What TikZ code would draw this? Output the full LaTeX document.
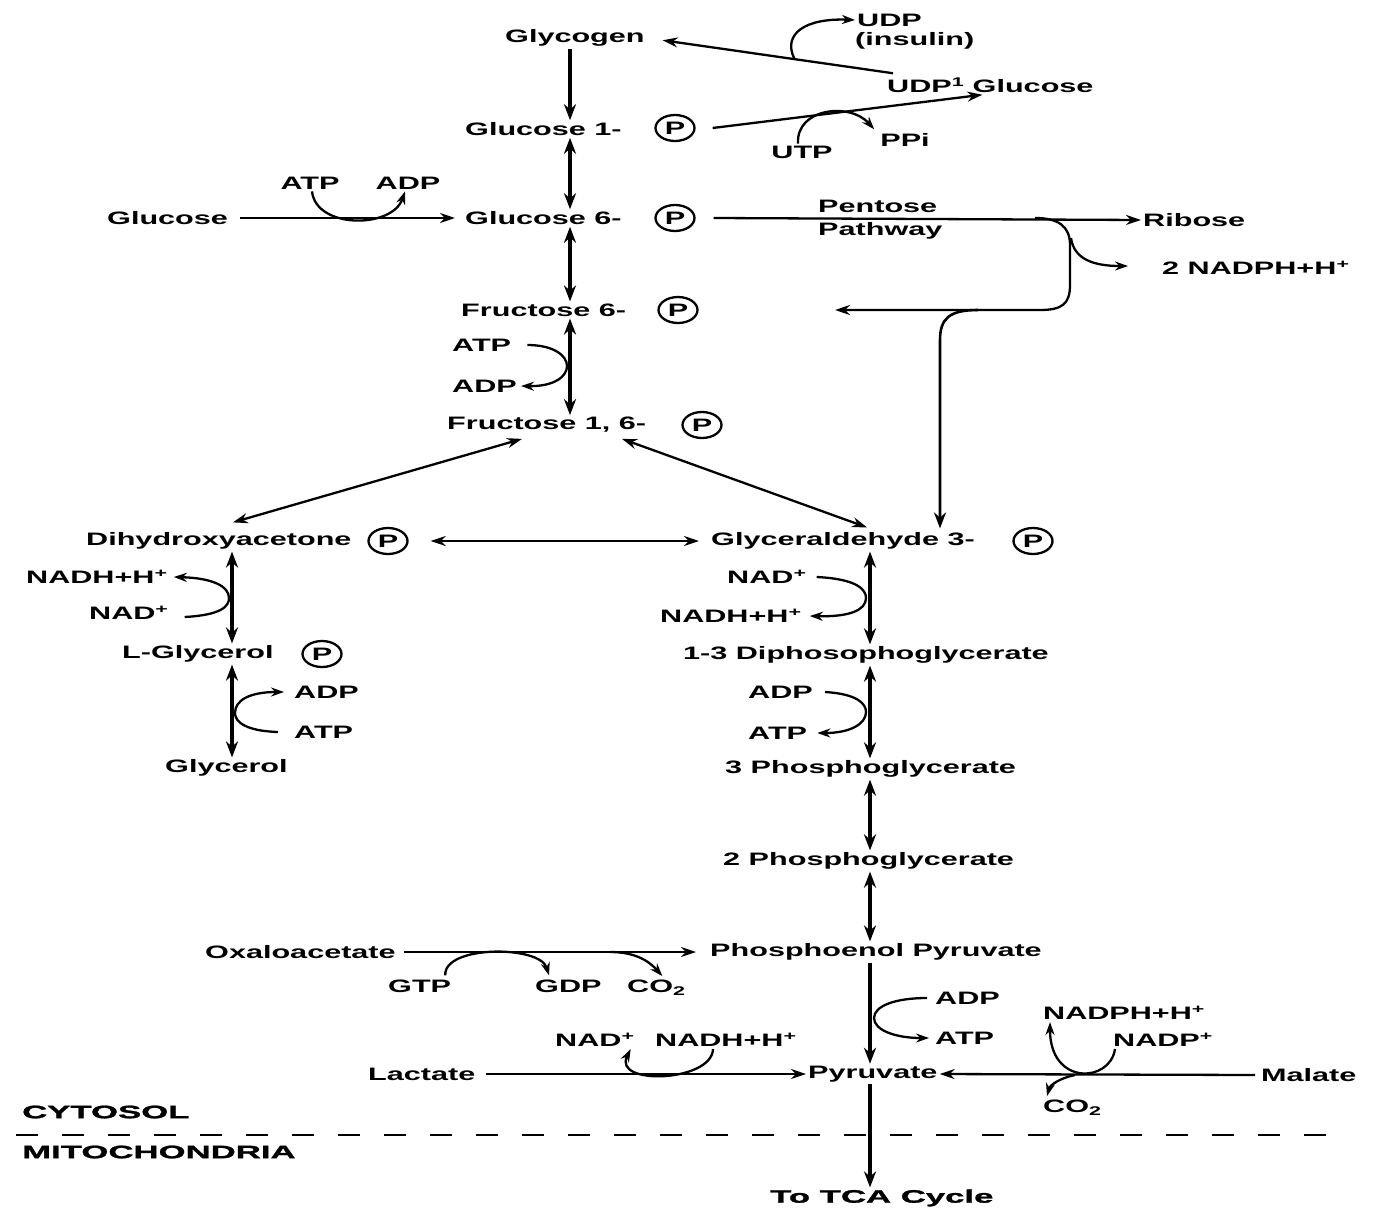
\documentclass[tikz,border=0pt]{standalone}
\usepackage{fontspec}
\setmainfont{Liberation Sans}[FakeStretch=1.70]
\newfontfamily\heavyfont{Liberation Sans}[FakeStretch=1.93, FakeBold=1.5]
\usetikzlibrary{arrows.meta,shapes.geometric,calc}
\begin{document}
\begin{tikzpicture}[x=1pt,y=-1pt,
  lbl/.style={font=\fontsize{18}{20}\selectfont\bfseries, inner sep=2pt, anchor=west},
  blbl/.style={lbl, font=\fontsize{18}{20}\selectfont\heavyfont\bfseries},
  pc/.style={draw, ellipse, line width=2.3pt, minimum width=39pt, minimum height=26pt, inner sep=0pt, font=\fontsize{18}{20}\selectfont\bfseries},
  arr/.style={-{Stealth[length=15pt,width=10pt]}, line width=2.3pt},
  varr/.style={-{Stealth[length=16pt,width=12pt]}, line width=3.1pt},
  dbl/.style={{Stealth[length=16pt,width=12pt]}-{Stealth[length=16pt,width=12pt]}, line width=3.1pt},
  dblt/.style={{Stealth[length=15pt,width=10pt]}-{Stealth[length=15pt,width=10pt]}, line width=2.3pt},
  cofa/.style={-{Stealth[length=13pt,width=9pt]}, line width=2.3pt},
]
\useasboundingbox[fill=white] (0,0) rectangle (1383,1215);

% axes
\coordinate (ax) at (570,0);
\coordinate (lx) at (232,0);
\coordinate (rx) at (870,0);
\coordinate (dx) at (940,0);

% ---------- nodes ----------
\node[lbl] (gly) at (503,38) {Glycogen};
\node[lbl] (udp) at (855,20) {UDP};
\node[lbl] (ins) at (853,41) {(insulin)};
\node[lbl] (udpg) at (885,85) {UDP\textsuperscript{1} Glucose};
\node[lbl] (g1) at (463,129) {Glucose 1-};
\node[pc] (pg1) at (675,128) {P};
\node[lbl,anchor=center] (utp) at (802,152) {UTP};
\node[lbl,anchor=center] (ppi) at (905,140) {PPi};
\node[lbl,anchor=center] (atp1) at (310,183) {ATP};
\node[lbl,anchor=center] (adp1) at (408,183) {ADP};
\node[lbl] (glc) at (105,218) {Glucose};
\node[lbl] (g6) at (463,218) {Glucose 6-};
\node[pc] (pg6) at (675,218) {P};
\node[lbl] (pen) at (816,206) {Pentose};
\node[lbl] (pat) at (816,231) {Pathway};
\node[lbl] (rib) at (1141,220) {Ribose};
\node[lbl] (nadph1) at (1160,268) {2 NADPH+H\textsuperscript{+}};
\node[lbl] (f6) at (459,310) {Fructose 6-};
\node[pc] (pf6) at (678,310) {P};
\node[lbl] (atp2) at (450,345) {ATP};
\node[lbl] (adp2) at (450,386) {ADP};
\node[lbl] (f16) at (445,425) {Fructose 1, 6-};
\node[pc] (pf16) at (702,425) {P};
\node[lbl] (dhap) at (84,541) {Dihydroxyacetone};
\node[pc] (pdhap) at (388,541) {P};
\node[lbl] (g3p) at (709,541) {Glyceraldehyde 3-};
\node[pc] (pg3p) at (1033,541) {P};
\node[lbl] (nadhL) at (24,577) {NADH+H\textsuperscript{+}};
\node[lbl] (nadL) at (87,613) {NAD\textsuperscript{+}};
\node[lbl] (lg3p) at (120,654) {L-Glycerol};
\node[pc] (plg) at (322,654) {P};
\node[lbl] (adpL) at (292,692) {ADP};
\node[lbl] (atpL) at (292,732) {ATP};
\node[lbl] (glyc) at (163,768) {Glycerol};
\node[lbl] (nadR) at (725,577) {NAD\textsuperscript{+}};
\node[lbl] (nadhR) at (658,616) {NADH+H\textsuperscript{+}};
\node[lbl] (dpg) at (681,655) {1-3 Diphosophoglycerate};
\node[lbl] (adpR) at (746,692) {ADP};
\node[lbl] (atpR) at (746,733) {ATP};
\node[lbl] (pg3) at (723,769) {3 Phosphoglycerate};
\node[lbl] (pg2) at (721,861) {2 Phosphoglycerate};
\node[lbl] (oaa) at (203,952) {Oxaloacetate};
\node[lbl] (pep) at (708,952) {Phosphoenol Pyruvate};
\node[lbl] (gtp) at (386,986) {GTP};
\node[lbl] (gdp) at (533,986) {GDP};
\node[lbl] (co2a) at (625,988) {CO\textsubscript{2}};
\node[lbl] (adpP) at (933,998) {ADP};
\node[lbl] (atpP) at (933,1038) {ATP};
\node[lbl] (nadphP) at (1041,1013) {NADPH+H\textsuperscript{+}};
\node[lbl] (nadpP) at (1111,1040) {NADP\textsuperscript{+}};
\node[lbl] (nadLac) at (553,1040) {NAD\textsuperscript{+}};
\node[lbl] (nadhLac) at (653,1040) {NADH+H\textsuperscript{+}};
\node[lbl] (lac) at (366,1074) {Lactate};
\node[lbl] (pyr) at (806,1074) {Pyruvate};
\node[lbl] (mal) at (1259,1075) {Malate};
\node[lbl] (co2b) at (1041,1108) {CO\textsubscript{2}};
\node[blbl] (cyt) at (20,1112) {CYTOSOL};
\node[blbl] (mit) at (20,1152) {MITOCHONDRIA};
\node[blbl] (tca) at (768,1198) {To TCA Cycle};

% ---------- main left column ----------
\draw[varr] (gly.south -| ax) -- (g1.north -| ax);
\draw[dbl] (g1.south -| ax) -- (g6.north -| ax);
\draw[dbl] (g6.south -| ax) -- (f6.north -| ax);
\draw[dbl] (f6.south -| ax) -- (f16.north -| ax);
\draw[cofa] ($(atp2.east)+(14,0)$) .. controls (580,345) and (580,387) .. ($(adp2.east)+(2,0)$);

% glucose -> G6P
\draw[arr] ($(glc.east)+(10,0)$) -- ($(g6.west)+(-8,0)$);
\draw[cofa] ($(atp1.south)+(2,0)$) .. controls (316,229) and (392,229) .. ($(adp1.south)+(-3,0)$);

% UDP-glucose -> glycogen
\coordinate (u1) at ($(udpg.north west)+(8,-2)$);
\draw[arr, shorten >=16pt] (u1) -- (gly.east);
\draw[cofa] ($(u1)!0.40!(gly.east)$) .. controls (782,34) and (805,18) .. (udp.west);

% G1P -> UDP-glucose
\draw[arr] ($(pg1.east)+(17,0)$) -- ($(udpg.south)+(-8,0)$);
\draw[cofa] ($(utp.north)+(-4,0)$) .. controls (796,108) and (850,102) .. ($(ppi.north west)+(-4,-2)$);

% pentose pathway
\draw[arr] ($(pg6.east)+(18,0)$) -- (rib.west);
\coordinate (br1) at (1035,218);
\coordinate (f6in) at (835,310);
\draw[arr] (br1) .. controls (1058,218) and (1070,226) .. (1070,245) -- (1070,285)
   .. controls (1070,304) and (1062,310) .. (1040,310) -- (f6in);
\draw[varr, line width=2.6pt] (978,310) .. controls (950,310) and (940,318) .. (940,340) -- ($(g3p.north -| dx)+(0,-2)$);
\draw[cofa] (1071,238) .. controls (1074,260) and (1095,266) .. ($(nadph1.west)+(-32,-2)$);

% fructose 1,6 bisphosphate split
\draw[dblt] ($(f16.south west)+(77,4)$) -- ($(dhap.north)+(14,-8)$);
\draw[dblt] ($(f16.south west)+(177,4)$) -- ($(g3p.north west)+(158,-3)$);
\draw[dblt] ($(pdhap.east)+(22,0)$) -- ($(g3p.west)+(-10,0)$);

% left branch (glycerol)
\draw[dbl] (dhap.south -| lx) -- (lg3p.north -| lx);
\draw[dbl] (lg3p.south -| lx) -- (glyc.north -| lx);
\draw[cofa] ($(nadL.east)+(14,4)$) .. controls (222,615) and (229,606) .. (229,598)
   .. controls (229,586) and (212,578) .. ($(nadhL.east)+(4,0)$);
\draw[cofa] ($(atpL.west)+(-14,0)$) .. controls (246,731) and (235,722) .. (235,713)
   .. controls (235,700) and (250,692) .. ($(adpL.west)+(-8,0)$);

% right column
\draw[dbl] (g3p.south -| rx) -- (dpg.north -| rx);
\draw[dbl] (dpg.south -| rx) -- (pg3.north -| rx);
\draw[dbl] (pg3.south -| rx) -- (pg2.north -| rx);
\draw[dbl] (pg2.south -| rx) -- (pep.north -| rx);
\draw[varr] (pep.south -| rx) -- (pyr.north -| rx);
\draw[varr] (pyr.south -| rx) -- (tca.north -| rx);
\draw[cofa] ($(nadR.east)+(8,0)$) .. controls (858,579) and (866,590) .. (866,598)
   .. controls (866,610) and (850,617) .. ($(nadhR.east)+(6,0)$);
\draw[cofa] ($(adpR.east)+(10,0)$) .. controls (858,694) and (866,704) .. (866,712)
   .. controls (866,724) and (850,733) .. ($(atpR.east)+(8,0)$);
\draw[cofa] ($(adpP.west)+(-6,0)$) .. controls (895,998) and (874,1006) .. (874,1018)
   .. controls (874,1030) and (895,1038) .. ($(atpP.west)+(-4,0)$);

% oxaloacetate -> PEP
\draw[arr] ($(oaa.east)+(6,0)$) -- ($(pep.west)+(-12,0)$);
\draw[cofa] ($(gtp.north east)+(-8,-2)$) .. controls (443,945) and (540,945) .. ($(gdp.north west)+(16,-2)$);
\draw[cofa] (610,952) .. controls (634,952) and (648,960) .. ($(co2a.north)+(6,-2)$);

% lactate -> pyruvate
\draw[arr] ($(lac.east)+(8,0)$) -- (pyr.west);
\draw[cofa] ($(nadhLac.south west)+(60,0)$) .. controls (712,1082) and (612,1086) .. ($(nadLac.south east)+(-6,0)$);

% malate -> pyruvate
\draw[arr] ($(mal.west)+(-4,0)$) -- (pyr.east);
\draw[cofa] ($(nadpP.south west)+(4,0)$) .. controls (1110,1083) and (1050,1086) .. ($(nadphP.south west)+(9,0)$);
\draw[cofa] (1075,1075) .. controls (1060,1078) and (1050,1085) .. ($(co2b.north west)+(6,-2)$);

% membrane
\coordinate (mem1) at (16,1135);
\coordinate (mem2) at (1330,1135);
\draw[line width=2.8pt, dash pattern=on 22pt off 24pt] (mem1) -- (mem2);
\end{tikzpicture}
\end{document}
